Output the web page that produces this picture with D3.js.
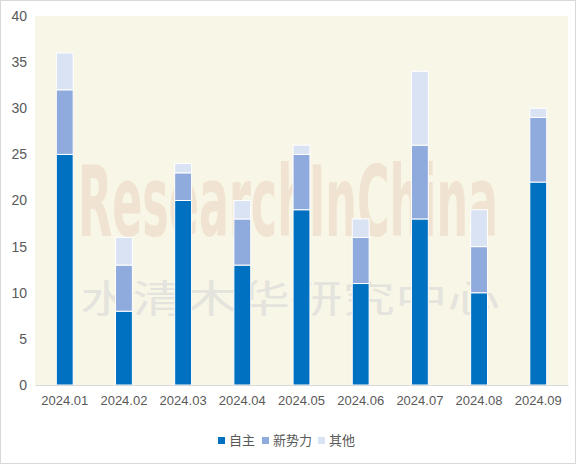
<!DOCTYPE html><html><head><meta charset="utf-8"><script src="https://cdn.jsdelivr.net/npm/d3@7"></script>
<style>body{margin:0}svg{font-family:"Microsoft YaHei","Noto Sans CJK SC",sans-serif}</style></head><body>
<script>
const categories=["2024.01","2024.02","2024.03","2024.04","2024.05","2024.06","2024.07","2024.08","2024.09"];
const zizhu=[25,8,20,13,19,11,18,10,22];
const xinshili=[7,5,3,5,6,5,8,5,7];
const qita=[4,3,1,2,1,2,8,4,1];
const seriesNames=["自主","新势力","其他"];
const colors=["#0070c0","#8faadc","#dae3f3"];
const yTicks=[0,5,10,15,20,25,30,35,40];
const W=576,H=464,m={l:35,r:8,t:16,b:79};
const svg=d3.select("body").append("svg").attr("width",W).attr("height",H);
svg.append("rect").attr("x",0.5).attr("y",0.5).attr("width",W-1).attr("height",H-1).attr("fill","#fff").attr("stroke","#d9d9d9");
const x=d3.scaleBand().domain(categories).range([m.l,W-m.r]).paddingInner(0.715).paddingOuter(0.36);
const y=d3.scaleLinear().domain([0,40]).range([H-m.b,m.t]);
svg.append("rect").attr("x",m.l).attr("y",m.t).attr("width",W-m.r-m.l).attr("height",H-m.b-m.t).attr("fill","#f8f6e6");
svg.append("text").attr("transform","translate(288,236) scale(1,1.7)").attr("text-anchor","middle").attr("font-size",58).attr("font-family","DejaVu Sans Condensed").attr("font-weight","bold").attr("fill","#ecd5c0").attr("opacity",0.55).attr("textLength",420).attr("lengthAdjust","spacingAndGlyphs").text("ResearchInChina");
svg.append("text").attr("x",290).attr("y",312).attr("text-anchor","middle").attr("font-size",38).attr("fill","#d8d8d8").attr("opacity",0.6).attr("textLength",420).attr("lengthAdjust","spacingAndGlyphs").text("水清木华研究中心");
const data=categories.map((c,i)=>({c,自主:zizhu[i],新势力:xinshili[i],其他:qita[i]}));
const st=d3.stack().keys(seriesNames)(data);
st.forEach((s,k)=>{svg.append("g").selectAll("rect").data(s).join("rect")
 .attr("x",d=>x(d.data.c)).attr("width",x.bandwidth()).attr("y",d=>y(d[1])).attr("height",d=>y(d[0])-y(d[1]))
 .attr("fill",colors[k]).attr("stroke","#fff").attr("stroke-width",1);});
const ya=svg.append("g").attr("transform",`translate(${m.l},0)`).call(d3.axisLeft(y).tickValues(yTicks).tickSize(0).tickPadding(8));
ya.select(".domain").remove();
ya.selectAll("text").attr("font-size",14).attr("fill","#595959");
const xa=svg.append("g").attr("transform",`translate(0,${H-m.b})`).call(d3.axisBottom(x).tickSize(0).tickPadding(11));
xa.select(".domain").attr("stroke","#d9d9d9");
xa.selectAll("text").attr("font-size",13).attr("fill","#595959");
const lg=svg.append("g").attr("transform","translate(218,441)");
const lx=[0,44,100];
seriesNames.forEach((n,i)=>{lg.append("rect").attr("x",lx[i]).attr("y",-4).attr("width",7).attr("height",7).attr("fill",colors[i]);
 lg.append("text").attr("x",lx[i]+11).attr("y",4).attr("font-size",13).attr("fill","#595959").text(n);});
</script></body></html>
